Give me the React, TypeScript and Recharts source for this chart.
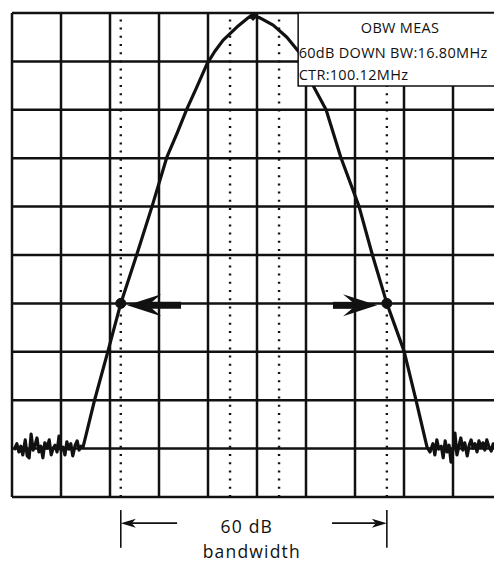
import React from 'react';
import {
  ComposedChart,
  Line,
  XAxis,
  YAxis,
  CartesianGrid,
  ReferenceLine,
  ReferenceDot,
  ReferenceArea,
} from 'recharts';

// Frequency position in screen divisions (0..10), level in dB (0 = reference level, 10 dB/div)
const freqDiv = [
  0.04, 0.1, 0.14, 0.18, 0.22, 0.27, 0.31, 0.35, 0.39, 0.43, 0.47, 0.51, 0.55, 0.59, 0.63, 0.67, 0.71,
  0.76, 0.8, 0.84, 0.88, 0.92, 0.96, 1.0, 1.04, 1.08, 1.12, 1.16, 1.2, 1.24, 1.29, 1.33, 1.37, 1.41,
  1.45, 1.69, 1.96, 2.22, 2.55, 2.86, 3.16, 3.37, 3.57, 3.78, 3.98, 4.14, 4.31, 4.59, 4.82, 4.92,
  5.06, 5.33, 5.61, 5.86, 5.98, 6.16, 6.41, 6.71, 7.08, 7.35, 7.65, 8.0, 8.24, 8.47,
  8.53, 8.59, 8.63, 8.67, 8.71, 8.76, 8.8, 8.84, 8.88, 8.92, 8.96, 9.0, 9.04, 9.08, 9.12, 9.16, 9.2,
  9.24, 9.29, 9.33, 9.37, 9.41, 9.45, 9.49, 9.53, 9.57, 9.61, 9.65, 9.69, 9.73, 9.78, 9.82, 9.88,
  9.94, 10.0,
];
const levelDb = [
  -90.3, -89.0, -90.7, -89.5, -91.3, -88.2, -91.5, -91.9, -87.0, -90.3, -89.3, -87.8, -90.7, -89.5,
  -91.9, -88.8, -89.9, -88.2, -91.3, -89.9, -89.3, -90.7, -87.4, -90.3, -89.7, -91.3, -88.6, -90.1,
  -89.0, -91.5, -89.3, -88.4, -90.3, -89.5,
  -89.7, -79.8, -69.8, -60.0, -49.8, -39.9, -29.8, -24.8, -19.8, -15.1, -10.5, -7.9, -5.6, -2.9,
  -1.0, -0.6, -1.0, -2.5, -5.0, -8.1, -10.1, -15.3, -20.0, -29.8, -39.9, -49.8, -60.0, -69.8, -79.8,
  -89.7,
  -90.7, -89.0, -91.3, -88.2, -90.1, -89.5, -91.9, -88.4, -90.7, -89.3, -92.8, -90.3, -86.8, -91.3,
  -89.5, -87.8, -90.3, -88.8, -91.5, -89.3, -88.2, -89.9, -89.0, -90.7, -88.4, -89.7, -88.8, -90.3,
  -88.2, -89.5, -90.5, -89.0, -89.9, -88.8, -90.1,
];

const xTicks = [0, 1, 2, 3, 4, 5, 6, 7, 8, 9, 10];
const yTicks = [-100, -90, -80, -70, -60, -50, -40, -30, -20, -10, 0];
const dottedMarkers = [2.22, 4.45, 5.45, 7.65];
const lowerMarker = 2.22;
const upperMarker = 7.65;
const downLevel = -60;
const peak = { x: 4.92, db: -0.6 };
const boxLines = ['OBW MEAS', '60dB DOWN BW:16.80MHz', 'CTR:100.12MHz'];
const bottomLabel = ['60 dB', 'bandwidth'];

const data = freqDiv.map((x, i) => ({ x, db: levelDb[i] }));

const INK = '#111';
const FONT = '"Open Sans", "Noto Sans", sans-serif';

function makeArrow(headLen: number, headHalf: number, notch: number, shaftW: number) {
  return (p: any) => {
    const { x1, y1, x2, y2 } = p;
    const dx = x2 - x1;
    const dy = y2 - y1;
    const L = Math.hypot(dx, dy) || 1;
    const ux = dx / L;
    const uy = dy / L;
    const px = -uy;
    const py = ux;
    const bx = x2 - ux * headLen;
    const by = y2 - uy * headLen;
    const nx = x2 - ux * notch;
    const ny = y2 - uy * notch;
    return (
      <g>
        <line x1={x1} y1={y1} x2={nx} y2={ny} stroke={INK} strokeWidth={shaftW} />
        <polygon
          points={`${x2},${y2} ${bx + px * headHalf},${by + py * headHalf} ${nx},${ny} ${bx - px * headHalf},${by - py * headHalf}`}
          fill={INK}
        />
      </g>
    );
  };
}

const bigArrow = makeArrow(34, 11, 21, 7);
const smallArrow = makeArrow(15, 4.5, 11, 1.6);

const BoxText = (p: any) => {
  const vb = p.viewBox || {};
  const x = vb.x ?? 0;
  const y = vb.y ?? 0;
  const w = vb.width ?? 0;
  return (
    <g fontFamily={FONT} fontSize={14.5} fill={INK} letterSpacing={0.3}>
      <text x={x + w / 2} y={y + 20} textAnchor="middle">
        {boxLines[0]}
      </text>
      <text x={x + 0.5} y={y + 45}>
        {boxLines[1]}
      </text>
      <text x={x + 0.5} y={y + 67}>
        {boxLines[2]}
      </text>
    </g>
  );
};

const BottomText = (p: any) => {
  const vb = p.viewBox || {};
  const cx = vb.x ?? 0;
  const cy = vb.y ?? 0;
  return (
    <g fontFamily={FONT} fontSize={17.5} fill={INK} letterSpacing={1.2}>
      <text x={cx - 7} y={cy + 10} textAnchor="middle">
        {bottomLabel[0]}
      </text>
      <text x={cx - 2} y={cy + 35} textAnchor="middle">
        {bottomLabel[1]}
      </text>
    </g>
  );
};

const Diamond = (p: any) => {
  const { cx, cy } = p;
  return <polygon points={`${cx},${cy + 5} ${cx - 5},${cy} ${cx},${cy - 4} ${cx + 5},${cy}`} fill={INK} />;
};

export default function App() {
  return (
    <div
      style={{
        position: 'fixed',
        left: 0,
        top: 0,
        width: 494,
        height: 564,
        overflow: 'hidden',
        background: '#fff',
      }}
    >
      <ComposedChart
        width={520}
        height={564}
        data={data}
        margin={{ top: 13, right: 18, left: 12, bottom: 67 }}
      >
        <XAxis dataKey="x" type="number" domain={[0, 10]} ticks={xTicks} interval={0} hide />
        <YAxis type="number" domain={[-100, 0]} ticks={yTicks} interval={0} hide />
        <CartesianGrid stroke={INK} strokeWidth={2.5} />
        {dottedMarkers.map((m) => (
          <ReferenceLine key={m} x={m} stroke={INK} strokeWidth={2.4} strokeDasharray="2 6.2" />
        ))}
        <Line
          type="linear"
          dataKey="db"
          stroke={INK}
          strokeWidth={3.2}
          strokeLinejoin="round"
          dot={false}
          isAnimationActive={false}
        />
        <ReferenceDot x={lowerMarker} y={downLevel} r={5} fill={INK} stroke={INK} />
        <ReferenceDot x={upperMarker} y={downLevel} r={5} fill={INK} stroke={INK} />
        <ReferenceDot x={peak.x} y={peak.db} shape={Diamond} />
        <ReferenceLine
          segment={[
            { x: 3.45, y: -60.4 },
            { x: 2.35, y: -60.4 },
          ]}
          shape={bigArrow}
        />
        <ReferenceLine
          segment={[
            { x: 6.55, y: -60.4 },
            { x: 7.45, y: -60.4 },
          ]}
          shape={bigArrow}
        />
        <ReferenceArea
          x1={5.84}
          x2={10}
          y1={-15.1}
          y2={0}
          fill="#fff"
          fillOpacity={1}
          stroke={INK}
          strokeWidth={1.5}
          ifOverflow="visible"
          label={BoxText}
          zIndex={1500}
        />
        <ReferenceLine
          segment={[
            { x: lowerMarker, y: -102.7 },
            { x: lowerMarker, y: -110.5 },
          ]}
          stroke={INK}
          strokeWidth={1.6}
          ifOverflow="visible"
        />
        <ReferenceLine
          segment={[
            { x: upperMarker, y: -102.7 },
            { x: upperMarker, y: -110.5 },
          ]}
          stroke={INK}
          strokeWidth={1.6}
          ifOverflow="visible"
        />
        <ReferenceLine
          segment={[
            { x: 3.37, y: -105.4 },
            { x: lowerMarker, y: -105.4 },
          ]}
          shape={smallArrow}
          ifOverflow="visible"
        />
        <ReferenceLine
          segment={[
            { x: 6.53, y: -105.4 },
            { x: upperMarker, y: -105.4 },
          ]}
          shape={smallArrow}
          ifOverflow="visible"
        />
        <ReferenceDot
          x={(lowerMarker + upperMarker) / 2}
          y={-105.4}
          r={0}
          fill="none"
          stroke="none"
          ifOverflow="visible"
          label={BottomText}
        />
      </ComposedChart>
    </div>
  );
}
